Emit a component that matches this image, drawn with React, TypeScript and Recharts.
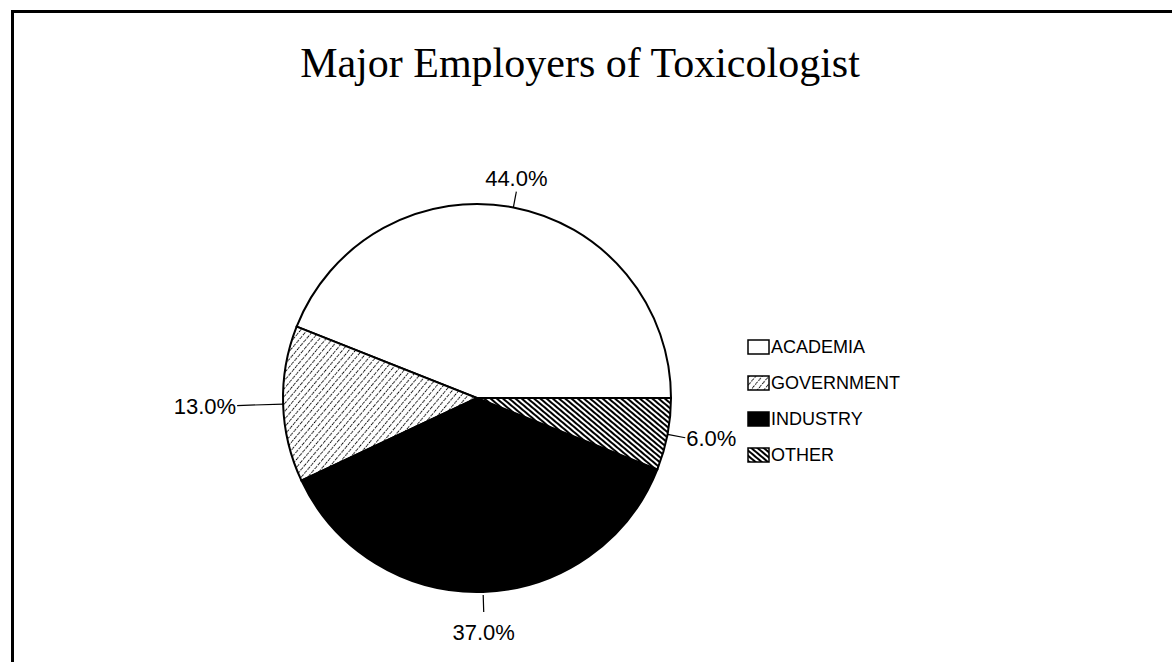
import { PieChart, Pie, Cell, Legend } from "recharts";

// employer categories and their share (%)
const categories = ["ACADEMIA", "GOVERNMENT", "INDUSTRY", "OTHER"];
const shares = [44, 13, 37, 6];
const fills = ["#ffffff", "url(#govPattern)", "#000000", "url(#otherPattern)"];

const pieData = categories.map((name, i) => ({ name, value: shares[i] }));

const RADIAN = Math.PI / 180;

// leader line length for each slice label
const lineLen: Record<string, number> = {
  ACADEMIA: 16,
  GOVERNMENT: 46,
  INDUSTRY: 20,
  OTHER: 18,
};

const renderLabel = (props: any) => {
  const { cx, cy, midAngle, outerRadius, payload, percent } = props;
  const name = payload?.name ?? props.name;
  const len = lineLen[name] ?? 16;
  const cos = Math.cos(-midAngle * RADIAN);
  const sin = Math.sin(-midAngle * RADIAN);
  const gap = sin > 0.9 ? 3 : 0;
  const x1 = cx + (outerRadius + gap) * cos;
  const y1 = cy + (outerRadius + gap) * sin;
  const x2 = cx + (outerRadius + len) * cos;
  const y2 = cy + (outerRadius + len) * sin;

  let tx = x2;
  let ty = y2;
  let anchor: "start" | "middle" | "end" = "middle";
  if (Math.abs(cos) < 0.4) {
    anchor = "middle";
    ty = sin < 0 ? y2 - 6 : y2 + 28;
  } else if (cos > 0) {
    anchor = "start";
    tx = x2 + 1;
    ty = y2 + 8;
  } else {
    anchor = "end";
    tx = x2 - 1;
    ty = y2 + 8;
  }

  return (
    <g>
      <line x1={x1} y1={y1} x2={x2} y2={y2} stroke="#000" strokeWidth={1.2} />
      <text
        x={tx}
        y={ty}
        textAnchor={anchor}
        fill="#000"
        fontSize={22}
        fontFamily="'Liberation Sans', Arial, sans-serif"
      >
        {(percent * 100).toFixed(1)}%
      </text>
    </g>
  );
};

const LegendBox = () => (
  <div style={{ fontFamily: "'Liberation Sans', Arial, sans-serif", fontSize: 18, color: "#000" }}>
    {categories.map((c, i) => (
      <div key={c} style={{ display: "flex", alignItems: "center", height: 36 }}>
        <svg width={23} height={16} style={{ marginRight: 1 }}>
          <rect x={1} y={1} width={21} height={14} fill={fills[i]} stroke="#000" strokeWidth={1.5} />
        </svg>
        <span>{c}</span>
      </div>
    ))}
  </div>
);

export default function App() {
  return (
    <div
      style={{
        position: "absolute",
        left: 0,
        top: 0,
        width: 1172,
        height: 662,
        overflow: "hidden",
        background: "#fff",
      }}
    >
      <svg width={0} height={0} style={{ position: "absolute" }}>
        <defs>
          <pattern id="govPattern" width={5} height={5} patternUnits="userSpaceOnUse" patternTransform="rotate(-50)">
            <rect width={5} height={5} fill="#fff" />
            <line x1={0} y1={2.5} x2={5} y2={2.5} stroke="#000" strokeWidth={1} strokeDasharray="1.5 1.5" />
          </pattern>
          <pattern id="otherPattern" width={4} height={4} patternUnits="userSpaceOnUse" patternTransform="rotate(40)">
            <rect width={4} height={4} fill="#fff" />
            <line x1={0} y1={2} x2={4} y2={2} stroke="#000" strokeWidth={2} />
          </pattern>
        </defs>
      </svg>

      {/* frame */}
      <div
        style={{
          position: "absolute",
          left: 11,
          top: 10,
          width: 1200,
          height: 700,
          borderLeft: "3px solid #000",
          borderTop: "3px solid #000",
        }}
      />

      <div
        style={{
          position: "absolute",
          left: 0,
          top: 39,
          width: 1160,
          textAlign: "center",
          fontFamily: "'Liberation Serif', 'Times New Roman', serif",
          fontSize: 42,
          lineHeight: "48px",
          color: "#000",
        }}
      >
        Major Employers of Toxicologist
      </div>

      <div style={{ position: "absolute", left: 0, top: 0 }}>
        <PieChart width={1172} height={662} margin={{ top: 0, right: 0, bottom: 0, left: 0 }}>
          <Pie
            data={pieData}
            dataKey="value"
            nameKey="name"
            cx={477}
            cy={398}
            outerRadius={194}
            startAngle={0}
            endAngle={360}
            stroke="#000"
            strokeWidth={2}
            label={renderLabel}
            labelLine={false}
            isAnimationActive={false}
          >
            {pieData.map((d, i) => (
              <Cell key={d.name} fill={fills[i]} />
            ))}
          </Pie>
          <Legend
            layout="vertical"
            content={<LegendBox />}
            wrapperStyle={{ position: "absolute", left: 747, top: 329, width: 220 }}
          />
        </PieChart>
      </div>
    </div>
  );
}
